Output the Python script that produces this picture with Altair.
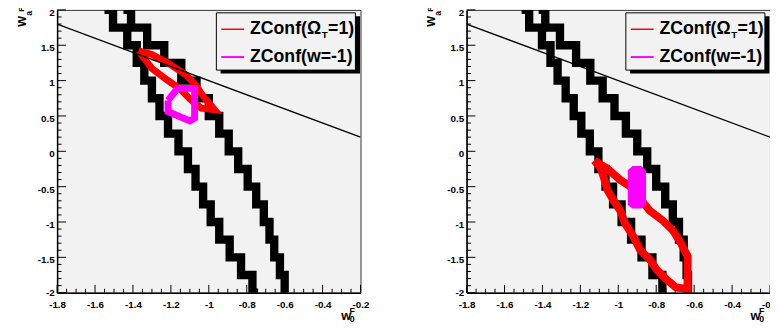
import altair as alt
import pandas as pd

# ---------------- axis ticks ----------------
x_major = [-1.8, -1.6, -1.4, -1.2, -1.0, -0.8, -0.6, -0.4, -0.2]
x_minor = [-1.75, -1.7, -1.65, -1.55, -1.5, -1.45, -1.35, -1.3, -1.25,
           -1.15, -1.1, -1.05, -0.95, -0.9, -0.85, -0.75, -0.7, -0.65,
           -0.55, -0.5, -0.45, -0.35, -0.3, -0.25]
y_major = [-2.0, -1.5, -1.0, -0.5, 0.0, 0.5, 1.0, 1.5, 2.0]
y_minor = [-1.9, -1.8, -1.7, -1.6, -1.4, -1.3, -1.2, -1.1, -0.9, -0.8, -0.7,
           -0.6, -0.4, -0.3, -0.2, -0.1, 0.1, 0.2, 0.3, 0.4, 0.6, 0.7, 0.8,
           0.9, 1.1, 1.2, 1.3, 1.4, 1.6, 1.7, 1.8, 1.9]

# ---------------- data ----------------
wa_grid = [2.0, 1.75, 1.5, 1.25, 1.0, 0.75, 0.5, 0.25, 0.0, -0.25, -0.5,
           -0.75, -1.0, -1.25, -1.5, -1.75, -2.0]

# left panel
left_black_a = [-1.55, -1.46, -1.40, -1.36, -1.32, -1.28, -1.24, -1.19, -1.13,
                -1.09, -1.05, -1.01, -0.97, -0.92, -0.86, -0.80, -0.74]
left_black_b = [-1.45, -1.37, -1.28, -1.19, -1.10, -1.03, -0.97, -0.92, -0.87,
                -0.82, -0.77, -0.73, -0.69, -0.67, -0.64, -0.61, -0.59]
left_red_w0 = [-1.37, -1.30, -1.21, -1.12, -1.07, -1.03, -0.97, -1.04, -1.10,
               -1.15, -1.22, -1.30, -1.37]
left_red_wa = [1.42, 1.37, 1.24, 1.08, 0.94, 0.78, 0.59, 0.61, 0.74, 0.88,
               1.01, 1.17, 1.42]
left_mag_w0 = [-1.215, -1.165, -1.075, -1.075, -1.10, -1.215, -1.215]
left_mag_wa = [0.72, 0.89, 0.89, 0.47, 0.43, 0.56, 0.72]

# right panel
right_black_a = [-1.51, -1.43, -1.375, -1.34, -1.30, -1.255, -1.215, -1.175,
                 -1.125, -1.085, -1.05, -1.005, -0.96, -0.905, -0.85, -0.79,
                 -0.745]
right_black_b = [-1.42, -1.35, -1.265, -1.18, -1.115, -1.05, -0.99, -0.93,
                 -0.87, -0.825, -0.775, -0.73, -0.695, -0.665, -0.645, -0.635,
                 -0.63]
right_red_w0 = [-1.126, -1.058, -0.989, -0.937, -0.833, -0.764, -0.712, -0.669,
                -0.634, -0.634, -0.695, -0.747, -0.798, -0.833, -0.885, -0.919,
                -0.963, -0.989, -1.023, -1.058, -1.075, -1.092, -1.126]
right_red_wa = [-0.13, -0.244, -0.406, -0.497, -0.843, -0.981, -1.119, -1.304,
                -1.488, -1.948, -1.925, -1.81, -1.67, -1.533, -1.395, -1.211,
                -1.028, -0.843, -0.704, -0.544, -0.383, -0.244, -0.13]
right_mag_wa = [-0.207, -0.268, -0.76, -0.81]
right_mag_lo = [-0.925, -0.95, -0.95, -0.925]
right_mag_hi = [-0.88, -0.854, -0.854, -0.88]

omega_w0 = [-1.8, -0.2]
omega_wa = [1.8, 0.2]

legend_labels = ["ZConf(\u03a9", "T", "=1)", "ZConf(w=-1)"]

# ---------------- style ----------------
W, H = 309, 288
BG = "#f2f2f2"
xs = alt.Scale(domain=[-1.8, -0.2], nice=False, zero=False)
ys = alt.Scale(domain=[-2, 2], nice=False, zero=False)
xaxis = alt.Axis(title=None, values=x_major, labelExpr="'' + datum.value",
                 labelFlush=False, labelOverlap=False, ticks=False,
                 labelPadding=7, zindex=1)
yaxis = alt.Axis(title=None, values=y_major, labelExpr="'' + datum.value",
                 labelFlush=False, labelOverlap=False, ticks=False,
                 labelPadding=3, labelOffset=2.5, zindex=1,
                 labelBaseline={"condition": {"test": "datum.value == -2",
                                              "value": "alphabetic"},
                                "value": "middle"})


def one():
    return pd.DataFrame({"k": [0]})


def path(w0, wa, color, width, interp="linear"):
    df = pd.DataFrame({"w0": w0, "wa": wa, "i": list(range(len(w0)))})
    return alt.Chart(df).mark_line(
        color=color, strokeWidth=width, interpolate=interp, clip=True,
        strokeJoin="miter", strokeCap="butt"
    ).encode(
        x=alt.X("w0:Q", scale=xs, axis=xaxis),
        y=alt.Y("wa:Q", scale=ys, axis=yaxis),
        order="i:Q",
    )


def txt(text, x, y, size, font="Liberation Sans", align="left",
        baseline="alphabetic", angle=0):
    return alt.Chart(pd.DataFrame({"t": [text]})).mark_text(
        align=align, baseline=baseline, font=font, fontSize=size,
        fontWeight="bold", angle=angle, color="black"
    ).encode(x=alt.value(x), y=alt.value(y), text="t:N")


def ticks_x(vals, length):
    return alt.Chart(pd.DataFrame({"v": vals})).mark_rule(
        color="black", strokeWidth=1).encode(
        x=alt.X("v:Q", scale=xs, axis=xaxis),
        y=alt.value(H), y2=alt.value(H - length))


def ticks_y(vals, length):
    return alt.Chart(pd.DataFrame({"v": vals})).mark_rule(
        color="black", strokeWidth=1).encode(
        y=alt.Y("v:Q", scale=ys, axis=yaxis),
        x=alt.value(0), x2=alt.value(length))


def legend_layers():
    shadow = alt.Chart(one()).mark_rect(color="black").encode(
        x=alt.value(166.5), x2=alt.value(308.5),
        y=alt.value(6.5), y2=alt.value(64.8))
    box = alt.Chart(one()).mark_rect(fill=BG, stroke="black", strokeWidth=1).encode(
        x=alt.value(162.2), x2=alt.value(303.8),
        y=alt.value(3), y2=alt.value(61.3))
    l1 = alt.Chart(one()).mark_rule(color="#ff0000", strokeWidth=1.5).encode(
        x=alt.value(167.2), x2=alt.value(190.5), y=alt.value(19.7))
    l2 = alt.Chart(one()).mark_rule(color="#ff00ff", strokeWidth=2).encode(
        x=alt.value(167.2), x2=alt.value(190.5), y=alt.value(48))
    t1 = txt(legend_labels[0], 196.5, 24.7, 18)
    t1s = txt(legend_labels[1], 269.5, 28.5, 10)
    t1e = txt(legend_labels[2], 276, 24.7, 18)
    t2 = txt(legend_labels[3], 196.5, 53, 18)
    return [shadow, box, l1, l2, t1, t1s, t1e, t2]


def title_layers():
    return [
        txt("w", -35.8, 11.8, 14, align="center", baseline="middle", angle=270),
        txt("a", -29, 3.5, 9, align="center", baseline="middle", angle=270),
        txt("F", -36, -0.5, 8, align="center", baseline="middle", angle=270),
        txt("w", 294.3, H + 24, 13, align="center", baseline="middle"),
        txt("F", 300.5, H + 18.5, 9, align="center", baseline="middle"),
        txt("0", 300.5, H + 27, 9, align="center", baseline="middle"),
    ]


def panel(black_a, black_b, red_layer, mag_layer):
    layers = [
        ticks_x(x_major, 8), ticks_x(x_minor, 4),
        ticks_y(y_major, 9), ticks_y(y_minor, 4.5),
        path(black_a, wa_grid, "black", 8.5, "step"),
        path(black_b, wa_grid, "black", 8.5, "step"),
        red_layer, mag_layer,
        path(omega_w0, omega_wa, "black", 1.3),
    ] + legend_layers() + title_layers()
    return alt.layer(*layers).properties(width=W, height=H)


left_chart = panel(
    left_black_a, left_black_b,
    path(left_red_w0, left_red_wa, "#ff0000", 7),
    path(left_mag_w0, left_mag_wa, "#ff00ff", 7),
)

mag_df = pd.DataFrame({"wa": right_mag_wa, "lo": right_mag_lo, "hi": right_mag_hi})
right_mag = alt.Chart(mag_df).mark_area(color="#ff00ff", orient="horizontal",
                                         opacity=1, clip=True).encode(
    y=alt.Y("wa:Q", scale=ys, axis=yaxis),
    x=alt.X("lo:Q", scale=xs, axis=xaxis),
    x2="hi:Q",
)

right_chart = panel(
    right_black_a, right_black_b,
    path(right_red_w0, right_red_wa, "#ff0000", 8),
    right_mag,
)

chart = alt.hconcat(left_chart, right_chart, spacing=108, bounds="flush").properties(
    padding={"left": 6, "top": -5, "right": -10, "bottom": 0},
    background="white",
).configure_view(
    fill=BG, stroke="#333333", strokeWidth=1
).configure_axis(
    domainColor="black", domainWidth=1.5, grid=False,
    labelFont="Liberation Sans", labelFontWeight="bold", labelFontSize=10,
    labelColor="black",
)

chart.save("out.html", embed_options={"renderer": "svg", "actions": False})
